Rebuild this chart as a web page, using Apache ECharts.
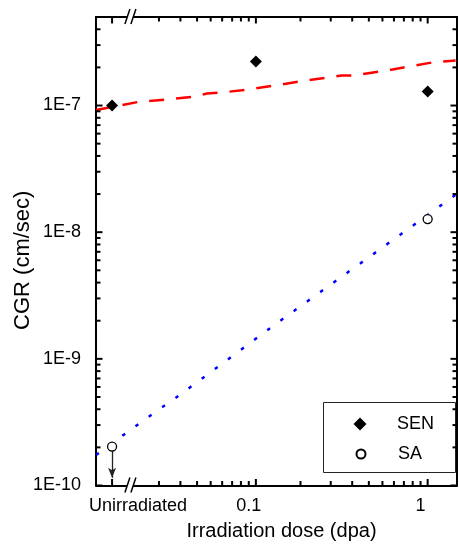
<!DOCTYPE html>
<html>
<head>
<meta charset="utf-8">
<script src="https://cdn.jsdelivr.net/npm/echarts@6/dist/echarts.min.js"></script>
<style>
  html, body { margin: 0; padding: 0; background: #fff; }
  #chart { width: 459px; height: 546px; }
</style>
</head>
<body>
<div id="chart"></div>
<script>
// Crack growth rate vs. irradiation dose (log-log)

// Dose positions (dpa); unirradiated specimens sit left of the axis break
const UNIRRADIATED_DOSE = 0.016;
const BREAK_DOSE = 0.0206;

// Measured CGR, sensitized (SEN) and solution-annealed (SA)
const SEN_DOSE = [UNIRRADIATED_DOSE, 0.11, 1.1];
const SEN_CGR = [1.0e-7, 2.23e-7, 1.29e-7];
const SA_DOSE = [UNIRRADIATED_DOSE, 1.1];
const SA_CGR = [2.03e-10, 1.27e-8];
// Upper-bound arrow end for the unirradiated SA value
const SA_BOUND_END = 1.15e-10;

// Model curves
const SEN_MODEL_DOSE = [0.0129, 0.0226, 0.0334, 0.0492, 0.057, 0.0697, 0.1, 0.1416, 0.198, 0.288, 0.347, 0.413, 0.485, 0.687, 0.863, 1.174, 1.6];
const SEN_MODEL_CGR = [9.21e-8, 1.066e-7, 1.115e-7, 1.178e-7, 1.245e-7, 1.268e-7, 1.339e-7, 1.44e-7, 1.549e-7, 1.666e-7, 1.728e-7, 1.728e-7, 1.792e-7, 1.928e-7, 2.036e-7, 2.19e-7, 2.27e-7];
const SA_MODEL_DOSE = [0.0129, 0.02485, 0.03866, 0.0745, 0.1379, 0.2657, 0.512, 0.9867, 1.6];
const SA_MODEL_CGR = [1.74e-10, 3.33e-10, 5.06e-10, 9.75e-10, 1.812e-9, 3.43e-9, 6.49e-9, 1.229e-8, 1.973e-8];

// Axis ranges, ticks and labels
const X_MIN = 0.0129, X_MAX = 1.63;
const Y_MIN = 1e-10, Y_MAX = 5e-7;
const X_SHORT_TICKS = [0.03, 0.04, 0.05, 0.06, 0.07, 0.08, 0.09, 0.1, 0.2, 0.3, 0.4, 0.5, 0.6, 0.7, 0.8, 0.9, 1];
const X_LONG_TICKS = [UNIRRADIATED_DOSE, 0.11, 1.1];
const X_LABEL_VALUES = [UNIRRADIATED_DOSE, 0.1, 1];
const X_LABEL_TEXT = ['Unirradiated', '0.1', '1'];
const Y_DECADES = [1e-10, 1e-9, 1e-8, 1e-7];
const Y_MINOR = [];
Y_DECADES.forEach(d => {
  for (let k = 2; k <= 9; k++) {
    const v = +(d * k).toPrecision(3);
    if (v <= Y_MAX) Y_MINOR.push(v);
  }
});

const FONT = "'Liberation Sans', Arial, sans-serif";
const zip = (xs, ys) => xs.map((x, i) => [x, ys[i]]);

const chart = echarts.init(document.getElementById('chart'));

function axisLine() {
  return { show: true, onZero: false, lineStyle: { color: '#000', width: 2 } };
}

const option = {
  animation: false,
  grid: { left: 96, right: 2, top: 17, bottom: 60.5, outerBoundsMode: 'none' },
  xAxis: [
    {
      type: 'log', position: 'bottom', min: X_MIN, max: X_MAX,
      axisLine: axisLine(),
      axisTick: { show: false },
      axisLabel: {
        show: true, customValues: X_LABEL_VALUES, margin: 12,
        color: '#000', fontSize: 18, fontFamily: FONT,
        formatter: function (v) {
          const i = X_LABEL_VALUES.findIndex(u => Math.abs(u - v) / u < 1e-6);
          if (i === 0) return '{u|' + X_LABEL_TEXT[0] + '}';
          return i >= 0 ? X_LABEL_TEXT[i] : '';
        },
        rich: { u: { fontSize: 18, fontFamily: FONT, color: '#000', padding: [0, 0, 0, 52] } }
      },
      splitLine: { show: false },
      minorTick: { show: false },
      name: 'Irradiation dose (dpa)',
      nameLocation: 'middle', nameGap: 36, nameMoveOverlap: false,
      nameTextStyle: { color: '#000', fontSize: 20, fontFamily: FONT, padding: [0, 0, 0, 10] }
    },
    {
      type: 'log', position: 'top', min: X_MIN, max: X_MAX,
      axisLine: axisLine(), axisTick: { show: false }, axisLabel: { show: false },
      splitLine: { show: false }, minorTick: { show: false }
    }
  ],
  yAxis: [
    {
      type: 'log', position: 'left', min: Y_MIN, max: Y_MAX,
      axisLine: axisLine(),
      axisTick: { show: false },
      axisLabel: {
        show: true, customValues: Y_DECADES, margin: 15,
        color: '#000', fontSize: 18, fontFamily: FONT,
        formatter: v => '1E' + Math.round(Math.log10(v))
      },
      splitLine: { show: false },
      minorTick: { show: false },
      name: 'CGR (cm/sec)',
      nameLocation: 'middle', nameGap: 62, nameRotate: 90, nameMoveOverlap: false,
      nameTextStyle: { color: '#000', fontSize: 22, fontFamily: FONT, padding: [0, 18, 0, 0] }
    },
    {
      type: 'log', position: 'right', min: Y_MIN, max: Y_MAX,
      axisLine: axisLine(), axisTick: { show: false }, axisLabel: { show: false },
      splitLine: { show: false }, minorTick: { show: false }
    }
  ],
  legend: [
    {
      data: ['SEN'], orient: 'vertical', left: 353.5, top: 415, padding: 0,
      itemWidth: 13, itemHeight: 13, selectedMode: false,
      textStyle: { color: '#000', fontSize: 18, fontFamily: FONT, padding: [0, 0, 0, 25.5] }
    },
    {
      data: ['SA'], orient: 'vertical', left: 355.5, top: 445, padding: 0,
      itemWidth: 9, itemHeight: 9, selectedMode: false,
      textStyle: { color: '#000', fontSize: 18, fontFamily: FONT, padding: [0, 0, 0, 27.5] }
    }
  ],
  series: [
    {
      name: 'SEN model', type: 'line', data: zip(SEN_MODEL_DOSE, SEN_MODEL_CGR),
      showSymbol: false, symbol: 'none', z: 2,
      lineStyle: { color: '#ff0000', width: 2.5, type: [15, 12] }
    },
    {
      name: 'SA model', type: 'line', data: zip(SA_MODEL_DOSE, SA_MODEL_CGR),
      showSymbol: false, symbol: 'none', z: 2,
      lineStyle: { color: '#0000ff', width: 2.5, type: [3.5, 12.8] }
    },
    {
      name: 'SA bound', type: 'scatter', data: [], z: 3,
      markLine: {
        silent: true, z: 3, animation: false,
        symbol: ['none', 'arrow'], symbolSize: [6, 10],
        label: { show: false },
        lineStyle: { color: '#222', width: 1.3, type: 'solid' },
        data: [[{ coord: [SA_DOSE[0], SA_CGR[0]] }, { coord: [SA_DOSE[0], SA_BOUND_END] }]]
      }
    },
    {
      name: 'SEN', type: 'scatter', data: zip(SEN_DOSE, SEN_CGR), z: 10,
      symbol: 'diamond', symbolSize: 12,
      itemStyle: { color: '#000', opacity: 1 }
    },
    {
      name: 'SA', type: 'scatter', data: zip(SA_DOSE, SA_CGR), z: 10,
      symbol: 'circle', symbolSize: 9,
      itemStyle: { color: '#fff', borderColor: '#000', borderWidth: 1.3, opacity: 1 }
    }
  ]
};

chart.setOption(option);

// Inward ticks on all four sides, legend frame and "//" break marks,
// all positioned through the axes' own scales
function decorate() {
  const px = v => chart.convertToPixel({ xAxisIndex: 0 }, v);
  const py = v => chart.convertToPixel({ yAxisIndex: 0 }, v);
  const xl = px(X_MIN), xr = px(X_MAX);
  const yb = py(Y_MIN), yt = py(Y_MAX);
  const els = [{
    type: 'rect', id: 'legendFrame', z: 1,
    shape: { x: 323.5, y: 402.5, width: xr - 325, height: 70 },
    style: { fill: '#fff', stroke: '#222', lineWidth: 1 }
  }];
  let n = 0;
  const tick = (x1, y1, x2, y2) => {
    els.push({
      type: 'line', id: 'tick' + (n++), z: 40,
      shape: { x1: x1, y1: y1, x2: x2, y2: y2 },
      style: { stroke: '#000', lineWidth: 2 }
    });
  };
  X_SHORT_TICKS.forEach(v => { const x = px(v); tick(x, yb, x, yb - 4.5); tick(x, yt, x, yt + 4.5); });
  X_LONG_TICKS.forEach(v => { const x = px(v); tick(x, yb, x, yb - 6.5); tick(x, yt, x, yt + 6.5); });
  Y_DECADES.forEach(v => { const y = py(v); tick(xl, y, xl + 6.5, y); tick(xr, y, xr - 6.5, y); });
  Y_MINOR.forEach(v => { const y = py(v); tick(xl, y, xl + 4.5, y); tick(xr, y, xr - 4.5, y); });

  const xb = px(BREAK_DOSE);
  [yb, yt].forEach((y, i) => {
    els.push({
      type: 'polygon', id: 'gap' + i, z: 50,
      shape: { points: [[xb - 6, y + 7], [xb - 1, y - 7], [xb + 5, y - 7], [xb, y + 7]] },
      style: { fill: '#fff' }
    });
    els.push({
      type: 'line', id: 'sl1' + i, z: 51,
      shape: { x1: xb - 6, y1: y + 7, x2: xb - 1, y2: y - 8 },
      style: { stroke: '#000', lineWidth: 1.5 }
    });
    els.push({
      type: 'line', id: 'sl2' + i, z: 51,
      shape: { x1: xb, y1: y + 7, x2: xb + 5, y2: y - 8 },
      style: { stroke: '#000', lineWidth: 1.5 }
    });
  });
  chart.setOption({ graphic: { elements: els } });
}
decorate();
</script>
</body>
</html>
